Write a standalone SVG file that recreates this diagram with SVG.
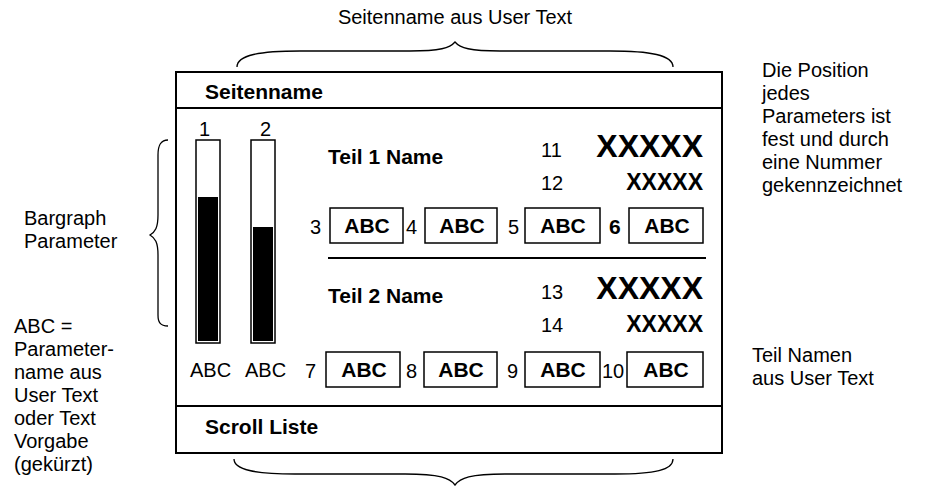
<svg xmlns="http://www.w3.org/2000/svg" width="934" height="486" viewBox="0 0 934 486">
<style>
text{font-family:"Liberation Sans",Arial,sans-serif;font-size:20px;fill:#000}
.b{font-weight:bold;font-size:21px}
.xl{font-weight:bold;font-size:32px}
.xs{font-weight:bold;font-size:23px}
.box{fill:#fff;stroke:#000;stroke-width:1.5}
.ln{stroke:#000;stroke-width:2;fill:none}
.br{stroke:#000;stroke-width:1.3;fill:none}
</style>
<rect width="934" height="486" fill="#fff"/>
<g id="annotations">
<text x="455" y="24" text-anchor="middle">Seitenname aus User Text</text>
<text x="762" y="77">Die Position</text>
<text x="762" y="100">jedes</text>
<text x="762" y="123">Parameters ist</text>
<text x="762" y="146">fest und durch</text>
<text x="762" y="169">eine Nummer</text>
<text x="762" y="192">gekennzeichnet</text>
<text x="752" y="362">Teil Namen</text>
<text x="752" y="385">aus User Text</text>
<text x="24" y="225">Bargraph</text>
<text x="24" y="248">Parameter</text>
<text x="14" y="333">ABC =</text>
<text x="14" y="356">Parameter-</text>
<text x="14" y="379">name aus</text>
<text x="14" y="402">User Text</text>
<text x="14" y="425">oder Text</text>
<text x="14" y="448">Vorgabe</text>
<text x="14" y="471">(gekürzt)</text>
</g>
<g id="braces">
<path class="br" d="M237,67 C237,55 260,51 300,51 L410,51 C440,51 450,48 455,42 C460,48 470,51 500,51 L610,51 C650,51 673,55 673,67"/>
<path class="br" d="M234,459 C234,470 255,474 295,474 L405,474 C440,474 450,478 455,485 C460,478 470,474 505,474 L615,474 C655,474 673,470 673,459"/>
<path class="br" d="M168,140 C160,140 158,146 158,155 L158,215 C158,228 155,232 150,235 C155,238 158,242 158,255 L158,315 C158,322 160,326 168,326"/>
</g>
<g id="frame">
<rect x="176" y="72" width="546" height="381" class="ln" fill="#fff"/>
<line x1="176" y1="108" x2="722" y2="108" class="ln"/>
<line x1="176" y1="406" x2="722" y2="406" class="ln"/>
<text x="205" y="99" class="b">Seitenname</text>
<text x="205" y="434" class="b">Scroll Liste</text>
</g>
<g id="bargraphs">
<text x="199" y="136">1</text>
<text x="260" y="136">2</text>
<rect x="196" y="140" width="24" height="203" class="box"/>
<rect x="198" y="197" width="20" height="144" fill="#000"/>
<rect x="251" y="140" width="24" height="203" class="box"/>
<rect x="253" y="227" width="20" height="114" fill="#000"/>
<text x="190" y="377">ABC</text>
<text x="245" y="377">ABC</text>
</g>
<g id="teil1">
<text x="328" y="164" class="b">Teil 1 Name</text>
<text x="541" y="157">11</text>
<text x="703" y="157" class="xl" text-anchor="end">XXXXX</text>
<text x="541" y="190">12</text>
<text x="703" y="190" class="xs" text-anchor="end">XXXXX</text>
<text x="310" y="234">3</text>
<rect x="330" y="208" width="73" height="35" class="box"/>
<text x="367" y="233" class="b" text-anchor="middle">ABC</text>
<text x="406" y="234">4</text>
<rect x="425" y="208" width="72" height="35" class="box"/>
<text x="462" y="233" class="b" text-anchor="middle">ABC</text>
<text x="508" y="234">5</text>
<rect x="525" y="208" width="75" height="35" class="box"/>
<text x="563" y="233" class="b" text-anchor="middle">ABC</text>
<text x="609" y="234" class="b">6</text>
<rect x="629" y="208" width="74" height="35" class="box"/>
<text x="667" y="233" class="b" text-anchor="middle">ABC</text>
</g>
<line x1="328" y1="258" x2="706" y2="258" class="ln"/>
<g id="teil2">
<text x="328" y="303" class="b">Teil 2 Name</text>
<text x="541" y="299">13</text>
<text x="703" y="299" class="xl" text-anchor="end">XXXXX</text>
<text x="541" y="332">14</text>
<text x="703" y="332" class="xs" text-anchor="end">XXXXX</text>
<text x="305" y="378">7</text>
<rect x="326" y="352" width="74" height="35" class="box"/>
<text x="364" y="377" class="b" text-anchor="middle">ABC</text>
<text x="406" y="378">8</text>
<rect x="424" y="352" width="73" height="35" class="box"/>
<text x="461" y="377" class="b" text-anchor="middle">ABC</text>
<text x="507" y="378">9</text>
<rect x="525" y="352" width="75" height="35" class="box"/>
<text x="563" y="377" class="b" text-anchor="middle">ABC</text>
<text x="602" y="378">10</text>
<rect x="627" y="352" width="76" height="35" class="box"/>
<text x="666" y="377" class="b" text-anchor="middle">ABC</text>
</g>
</svg>
